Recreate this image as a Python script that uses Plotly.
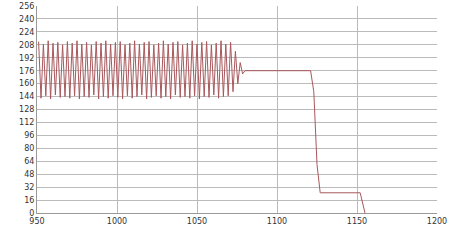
import plotly.graph_objects as go

osc_x = [951.0, 952.5, 954.0, 955.5, 957.0, 958.5, 960.0, 961.5, 963.0, 964.5,
         966.0, 967.5, 969.0, 970.5, 972.0, 973.5, 975.0, 976.5, 978.0, 979.5,
         981.0, 982.5, 984.0, 985.5, 987.0, 988.5, 990.0, 991.5, 993.0, 994.5,
         996.0, 997.5, 999.0, 1000.5, 1002.0, 1003.5, 1005.0, 1006.5, 1008.0, 1009.5,
         1011.0, 1012.5, 1014.0, 1015.5, 1017.0, 1018.5, 1020.0, 1021.5, 1023.0, 1024.5,
         1026.0, 1027.5, 1029.0, 1030.5, 1032.0, 1033.5, 1035.0, 1036.5, 1038.0, 1039.5,
         1041.0, 1042.5, 1044.0, 1045.5, 1047.0, 1048.5, 1050.0, 1051.5, 1053.0, 1054.5,
         1056.0, 1057.5, 1059.0, 1060.5, 1062.0, 1063.5, 1065.0, 1066.5, 1068.0, 1069.5,
         1071.0, 1072.5, 1074.0]
osc_y = [212, 142, 209, 145, 213, 141, 210, 146, 211, 143,
         208, 144, 212, 142, 210, 145, 213, 141, 209, 144,
         211, 143, 208, 146, 212, 141, 210, 144, 213, 142,
         209, 145, 211, 143, 212, 141, 208, 145, 210, 142,
         213, 144, 209, 146, 211, 141, 212, 143, 208, 145,
         210, 142, 213, 144, 209, 141, 211, 146, 212, 143,
         208, 144, 210, 142, 213, 145, 209, 141, 211, 144,
         212, 143, 208, 146, 210, 142, 213, 144, 209, 145,
         211, 150, 200]
tail_x = [1075.5, 1077.0, 1078.5, 1080.0, 1121.0, 1123.0, 1125.0, 1127.0, 1152.0, 1155.0]
tail_y = [160, 186, 172, 176, 176, 150, 60, 25, 25, 0]

x_vals = osc_x + tail_x
y_vals = osc_y + tail_y

x_ticks = [950, 1000, 1050, 1100, 1150, 1200]
y_ticks = [0, 16, 32, 48, 64, 80, 96, 112, 128, 144, 160, 176, 192, 208, 224, 240, 256]

fig = go.Figure()
fig.add_trace(go.Scatter(x=x_vals, y=y_vals, mode="lines",
                         line=dict(color="#a8585c", width=1)))
fig.update_layout(
    width=451, height=240,
    margin=dict(l=37, r=14, t=6, b=27, autoexpand=False),
    paper_bgcolor="white", plot_bgcolor="white",
    showlegend=False,
    font=dict(family="DejaVu Sans", size=8, color="#333333"),
)
fig.update_xaxes(range=[950, 1200], tickvals=x_ticks, showgrid=True,
                 gridcolor="#bbbbbb", gridwidth=1, zeroline=False, automargin=False,
                 showline=True, linecolor="#999999", ticks="", tickfont=dict(size=8))
fig.update_yaxes(range=[0, 256], tickvals=y_ticks, showgrid=True,
                 gridcolor="#bbbbbb", gridwidth=1, zeroline=False, automargin=False,
                 showline=True, linecolor="#999999", ticks="", tickfont=dict(size=8))
fig.write_html("out.html", config={"displayModeBar": False},
               post_script="document.body.style.margin='0';")
